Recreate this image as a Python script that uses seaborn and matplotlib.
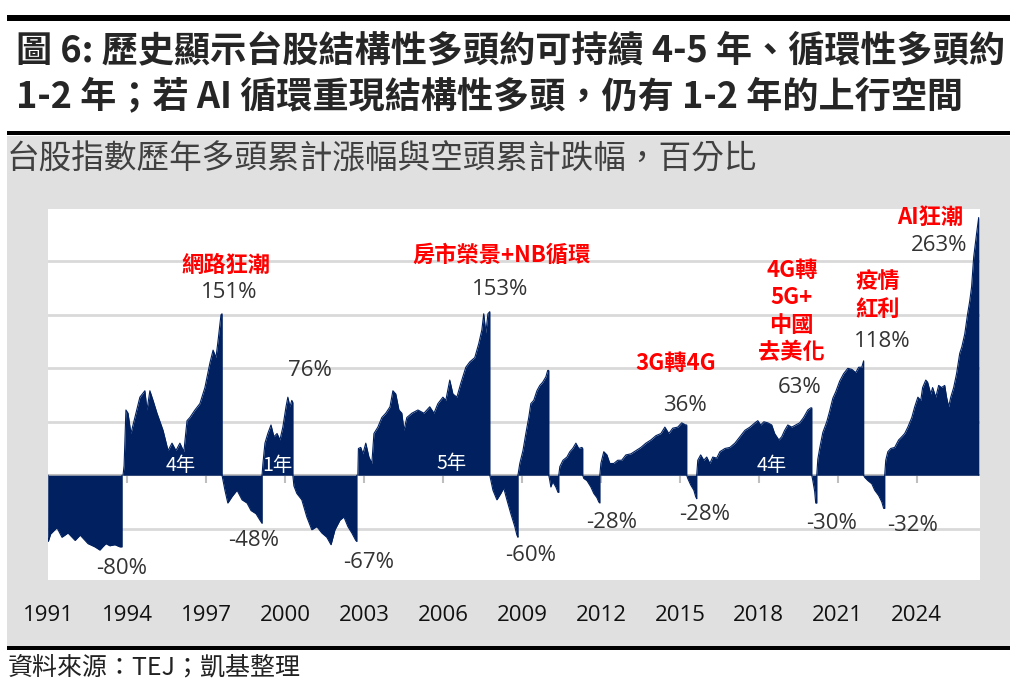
import numpy as np
import matplotlib.pyplot as plt
import seaborn as sns
from matplotlib.patches import Rectangle

# cumulative % move since the start of each bull / bear phase
# each phase: list of (year, pct); it starts from 0 and is closed back to 0 at its last year
bear_1991 = [(1991.00, 0), (1991.01, -62), (1991.10, -55), (1991.34, -49), (1991.53, -58), (1991.76, -54),
             (1992.03, -61), (1992.22, -56), (1992.52, -64), (1992.78, -67), (1992.97, -70), (1993.08, -67),
             (1993.20, -64), (1993.35, -66), (1993.54, -65), (1993.73, -67), (1993.81, -67)]
bull_1994 = [(1993.85, 0), (1993.89, 9), (1993.96, 61), (1994.04, 58), (1994.15, 39), (1994.30, 54), (1994.49, 73),
             (1994.68, 79), (1994.76, 61), (1994.87, 79), (1994.99, 70), (1995.14, 58), (1995.37, 42), (1995.56, 23),
             (1995.71, 30), (1995.86, 23), (1996.01, 30), (1996.16, 22), (1996.28, 51), (1996.39, 54), (1996.58, 61),
             (1996.77, 67), (1996.96, 82), (1997.15, 105), (1997.27, 117), (1997.38, 110), (1997.46, 126),
             (1997.57, 150), (1997.61, 151)]
bear_1998 = [(1997.61, 0), (1997.72, -14), (1997.83, -26), (1997.99, -20), (1998.18, -14), (1998.37, -23),
             (1998.56, -26), (1998.71, -33), (1998.90, -36), (1999.05, -42), (1999.13, -45)]
bull_1999 = [(1999.13, 0), (1999.16, 10), (1999.24, 30), (1999.35, 39), (1999.47, 47), (1999.58, 36), (1999.70, 39),
             (1999.81, 33), (1999.92, 45), (2000.04, 64), (2000.11, 73), (2000.19, 64), (2000.26, 70), (2000.30, 68)]
bear_2001 = [(2000.30, 0), (2000.34, -10), (2000.45, -17), (2000.64, -23), (2000.83, -39), (2001.02, -51),
             (2001.21, -48), (2001.40, -54), (2001.59, -58), (2001.75, -65), (2001.90, -51), (2002.09, -42),
             (2002.24, -39), (2002.39, -48), (2002.54, -54), (2002.69, -61), (2002.73, -62)]
bull_2003 = [(2002.77, 0), (2002.79, 25), (2002.88, 26), (2002.96, 20), (2003.07, 30), (2003.19, 17), (2003.30, 11),
             (2003.38, 39), (2003.53, 45), (2003.68, 54), (2003.83, 58), (2003.99, 64), (2004.10, 79), (2004.21, 76),
             (2004.33, 61), (2004.44, 58), (2004.52, 42), (2004.63, 54), (2004.82, 58), (2005.05, 61), (2005.28, 58),
             (2005.50, 64), (2005.66, 58), (2005.81, 67), (2006.00, 73), (2006.11, 70), (2006.26, 89), (2006.38, 76),
             (2006.53, 73), (2006.68, 86), (2006.87, 101), (2007.02, 106), (2007.21, 110), (2007.36, 123),
             (2007.48, 136), (2007.55, 151), (2007.63, 133), (2007.71, 151), (2007.78, 153)]
bear_2008 = [(2007.78, 0), (2007.90, -14), (2008.05, -23), (2008.20, -17), (2008.31, -12), (2008.43, -23),
             (2008.58, -36), (2008.73, -48), (2008.81, -56), (2008.85, -58)]
bull_2009 = [(2008.85, 0), (2008.92, 11), (2009.04, 23), (2009.15, 39), (2009.26, 54), (2009.34, 67), (2009.45, 70),
             (2009.57, 79), (2009.68, 84), (2009.79, 87), (2009.91, 92), (2009.98, 98), (2010.02, 98)]
bear_2010 = [(2010.02, 0), (2010.06, -5), (2010.10, -11), (2010.17, -6), (2010.29, -11), (2010.37, -16), (2010.40, -16)]
bull_2010 = [(2010.40, 0), (2010.44, 8), (2010.56, 14), (2010.71, 17), (2010.82, 22), (2010.93, 25), (2011.05, 30),
             (2011.16, 25), (2011.28, 26), (2011.31, 25)]
bear_2011 = [(2011.31, 0), (2011.35, -3), (2011.47, -5), (2011.62, -11), (2011.73, -17), (2011.85, -21),
             (2011.92, -25), (2011.96, -26)]
bull_2012 = [(2011.96, 0), (2012.00, 11), (2012.11, 22), (2012.23, 19), (2012.34, 11), (2012.49, 11), (2012.64, 14),
             (2012.79, 14), (2012.95, 19), (2013.14, 20), (2013.33, 23), (2013.52, 26), (2013.71, 30), (2013.90, 33),
             (2014.09, 37), (2014.28, 39), (2014.43, 45), (2014.58, 39), (2014.73, 44), (2014.92, 45), (2015.07, 49),
             (2015.22, 47), (2015.26, 47)]
bear_2015 = [(2015.26, 0), (2015.30, -3), (2015.41, -9), (2015.53, -14), (2015.60, -20), (2015.64, -22)]
bull_2016 = [(2015.64, 0), (2015.68, 14), (2015.79, 19), (2015.91, 14), (2016.02, 17), (2016.14, 11), (2016.25, 17),
             (2016.40, 16), (2016.52, 22), (2016.71, 25), (2016.90, 26), (2017.09, 30), (2017.28, 36), (2017.47, 42),
             (2017.66, 45), (2017.85, 49), (2017.96, 51), (2018.07, 47), (2018.19, 50), (2018.34, 49), (2018.49, 47),
             (2018.60, 39), (2018.76, 33), (2018.87, 36), (2018.98, 42), (2019.10, 47), (2019.25, 45), (2019.40, 47),
             (2019.55, 49), (2019.70, 54), (2019.86, 61), (2019.97, 63), (2020.01, 63)]
bear_2020 = [(2020.01, 0), (2020.05, -5), (2020.12, -15), (2020.16, -26), (2020.20, -26)]
bull_2020 = [(2020.20, 0), (2020.24, 15), (2020.31, 25), (2020.43, 40), (2020.58, 50), (2020.69, 60), (2020.81, 72),
             (2020.92, 78), (2021.07, 88), (2021.22, 95), (2021.38, 100), (2021.53, 99), (2021.68, 96),
             (2021.79, 101), (2021.91, 101), (2021.98, 107)]
bear_2022 = [(2021.98, 0), (2022.02, -2), (2022.14, -5), (2022.29, -8), (2022.40, -14), (2022.55, -19),
             (2022.67, -25), (2022.74, -31), (2022.78, -31)]
bull_2023 = [(2022.78, 0), (2022.82, 14), (2022.90, 22), (2023.01, 25), (2023.16, 26), (2023.31, 33), (2023.43, 36),
             (2023.54, 39), (2023.66, 45), (2023.81, 54), (2023.92, 64), (2024.04, 73), (2024.15, 70), (2024.22, 82),
             (2024.34, 89), (2024.41, 87), (2024.53, 76), (2024.60, 82), (2024.72, 73), (2024.83, 84), (2024.94, 82),
             (2025.06, 84), (2025.13, 73), (2025.21, 64), (2025.29, 73), (2025.40, 82), (2025.51, 95), (2025.63, 114),
             (2025.71, 120), (2025.82, 132), (2025.93, 151), (2026.01, 163), (2026.08, 176), (2026.16, 204),
             (2026.27, 226), (2026.35, 241)]

phases = [bear_1991, bull_1994, bear_1998, bull_1999, bear_2001, bull_2003, bear_2008, bull_2009, bear_2010,
          bull_2010, bear_2011, bull_2012, bear_2015, bull_2016, bear_2020, bull_2020, bear_2022, bull_2023]

tick_years = [1991, 1994, 1997, 2000, 2003, 2006, 2009, 2012, 2015, 2018, 2021, 2024]

# peak / trough labels: (year, pct, text)
pct_labels = [(1997.87, 171, '151%'), (2000.95, 98, '76%'), (2008.16, 174, '153%'), (2015.19, 65, '36%'),
              (2019.55, 82, '63%'), (2022.67, 125, '118%'), (2024.83, 215, '263%'),
              (1993.81, -87, '-80%'), (1998.82, -61, '-48%'), (2003.19, -82, '-67%'), (2009.34, -75, '-60%'),
              (2012.42, -44, '-28%'), (2015.95, -37, '-28%'), (2020.77, -45, '-30%'), (2023.84, -47, '-32%')]
theme_labels = [(1997.76, 196, '網路狂潮'), (2008.24, 206, '房市榮景+NB循環'), (2014.85, 105, '3G轉4G'),
                (2019.25, 153, '4G轉\n5G+\n中國\n去美化'), (2022.52, 168, '疫情\n紅利'), (2024.49, 241, 'AI狂潮')]
duration_labels = [(1996.05, 9, '4年'), (1999.73, 9, '1年'), (2006.34, 11, '5年'), (2018.49, 9, '4年')]

title_1 = '圖 6: 歷史顯示台股結構性多頭約可持續 4-5 年、循環性多頭約'
title_2 = '1-2 年；若 AI 循環重現結構性多頭，仍有 1-2 年的上行空間'
subtitle = '台股指數歷年多頭累計漲幅與空頭累計跌幅，百分比'
source = '資料來源：TEJ；凱基整理'

navy = '#002060'
W, H = 1016, 686

sns.set_theme(style='white')
plt.rcParams['font.family'] = ['Noto Sans CJK TC', 'DejaVu Sans']

fig = plt.figure(figsize=(W / 100, H / 100), dpi=100, facecolor='white')


def fx(px):
    return px / W


def fy(py):
    return 1 - py / H


# gray panel and black rules
fig.add_artist(Rectangle((fx(7), fy(646)), fx(1010 - 7), (646 - 136) / H, transform=fig.transFigure,
                         facecolor='#e0e0e0', edgecolor='none', zorder=-2))
for y0, y1 in [(15, 21), (131, 135), (646, 650)]:
    fig.add_artist(Rectangle((fx(7), fy(y1)), fx(1010 - 7), (y1 - y0) / H, transform=fig.transFigure,
                             facecolor='black', edgecolor='none', zorder=-1))

fig.text(fx(16), fy(51), title_1, fontsize=26, weight='bold', va='center', ha='left')
fig.text(fx(16), fy(97), title_2, fontsize=26, weight='bold', va='center', ha='left')
fig.text(fx(7), fy(160), subtitle, fontsize=23.5, color='#404040', va='center', ha='left')
fig.text(fx(8), fy(668), source, fontsize=18, color='#222222', style='italic', va='center', ha='left')

ax = fig.add_axes([fx(48), fy(580), fx(980 - 48), (580 - 209) / H])
ax.set_facecolor('white')

for ph in phases:
    xs = [p[0] for p in ph] + [ph[-1][0]]
    ys = [p[1] for p in ph] + [0]
    ax.fill_between(xs, ys, 0, color=navy, lw=0, zorder=3)
    sns.lineplot(x=xs, y=ys, estimator=None, sort=False, color=navy, lw=0.8, ax=ax, zorder=3)

ax.axhline(0, color='#bfbfbf', lw=1.5, zorder=2)
ax.vlines(tick_years[1:], -7, 0, color='#bfbfbf', lw=1.5, zorder=2)

ax.set_xlim(1991, 2026.4)
ax.set_ylim(-98, 249)
ax.set_yticks([-50, 50, 100, 150, 200])
ax.yaxis.grid(True, color='#d9d9d9', lw=2)
ax.tick_params(left=False, labelleft=False, bottom=False)
ax.set_xticks(tick_years)
ax.set_xticklabels([str(y) for y in tick_years], fontsize=16, color='#111111',
                   family=['Open Sans', 'DejaVu Sans'])
ax.tick_params(axis='x', pad=12)
for s in ax.spines.values():
    s.set_visible(False)

for x, y, t in pct_labels:
    ax.text(x, y, t, fontsize=16, color='#333333', ha='center', va='center',
            family=['Open Sans', 'DejaVu Sans'], zorder=5)
for x, y, t in theme_labels:
    ax.text(x, y, t, fontsize=16, color='#ff0000', weight='bold', ha='center', va='center',
            linespacing=1.25, zorder=5)
for x, y, t in duration_labels:
    ax.text(x, y, t, fontsize=14, color='white', ha='center', va='center', zorder=5)

fig.savefig('out.png', dpi=100, facecolor='white')
